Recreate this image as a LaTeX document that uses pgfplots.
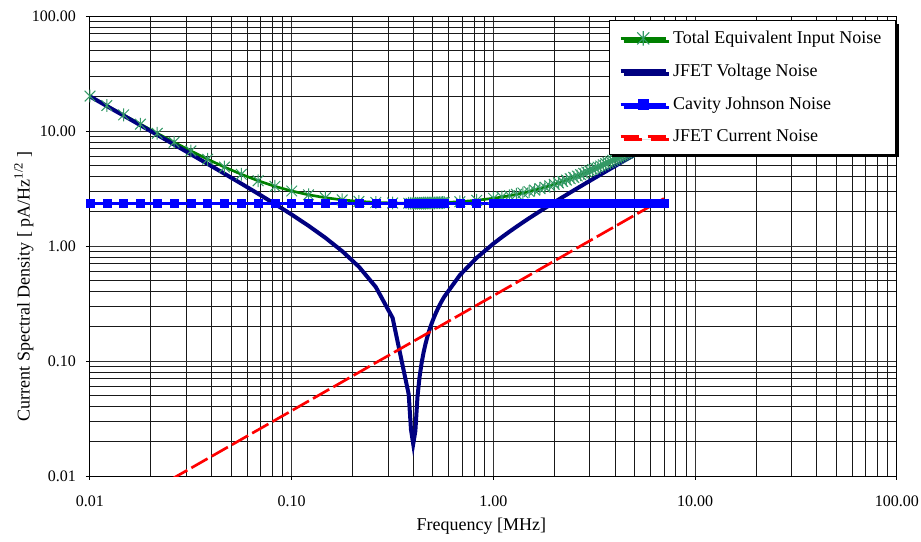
\documentclass[border=0pt]{standalone}
\usepackage{fontspec}
\setmainfont{Liberation Serif}
\usepackage{pgfplots}
\pgfplotsset{compat=1.18}
\usepackage{pgfplotstable}
\usetikzlibrary{shadows}

\definecolor{totline}{RGB}{0,128,0}
\definecolor{totmark}{RGB}{51,153,102}
\definecolor{navyv}{RGB}{0,0,128}
\definecolor{cavblue}{RGB}{0,0,255}
\definecolor{curred}{RGB}{255,0,0}

% Excel-like star: an x with a vertical bar
\pgfdeclareplotmark{xstar}{%
  \pgfpathmoveto{\pgfqpoint{-\pgfplotmarksize}{-\pgfplotmarksize}}%
  \pgfpathlineto{\pgfqpoint{\pgfplotmarksize}{\pgfplotmarksize}}%
  \pgfpathmoveto{\pgfqpoint{-\pgfplotmarksize}{\pgfplotmarksize}}%
  \pgfpathlineto{\pgfqpoint{\pgfplotmarksize}{-\pgfplotmarksize}}%
  \pgfpathmoveto{\pgfqpoint{0pt}{-1.2\pgfplotmarksize}}%
  \pgfpathlineto{\pgfqpoint{0pt}{1.2\pgfplotmarksize}}%
  \pgfusepathqstroke}

% f [MHz], total, JFET voltage, cavity Johnson
\pgfplotstableread{
f        T      V       J
0.01     20.13  19.99   2.35
0.012115 16.66  16.49   2.35
0.014678 13.81  13.61   2.35
0.017783 11.47  11.23   2.35
0.021544 9.549  9.256   2.35
0.026102 7.984  7.630   2.35
0.031623 6.710  6.285   2.35
0.038312 5.681  5.172   2.35
0.046416 4.857  4.251   2.35
0.056234 4.205  3.486   2.35
0.068129 3.694  2.850   2.35
0.082540 3.302  2.320   2.35
0.1      3.007  1.875   2.35
0.12115  2.788  1.499   2.35
0.14678  2.630  1.179   2.35
0.17783  2.518  0.902   2.35
0.21544  2.442  0.659   2.35
0.26102  2.393  0.440   2.35
0.31623  2.365  0.237   2.35
0.38     2.355  0.0513  2.35
0.39     2.355  0.0253  2.35
0.40     2.355  0.019   2.35
0.41     2.355  0.0247  2.35
0.42     2.356  0.0488  2.35
0.43     2.357  0.0724  2.35
0.44     2.358  0.0955  2.35
0.45     2.359  0.1181  2.35
0.46     2.360  0.1402  2.35
0.47     2.362  0.1620  2.35
0.48     2.364  0.1833  2.35
0.49     2.366  0.2043  2.35
0.50     2.368  0.2250  2.35
0.51     2.370  0.2453  2.35
0.52     2.373  0.2654  2.35
0.53     2.375  0.2851  2.35
0.54     2.378  0.3046  2.35
0.55     2.381  0.3239  2.35
0.56     2.384  0.3429  2.35
0.57     2.387  0.3616  2.35
0.68129  2.428  0.5581  2.35
0.82540  2.498  0.7894  2.35
1.0      2.600  1.050   2.35
1.1      2.667  1.193   2.35
1.2      2.738  1.333   2.35
1.3      2.814  1.471   2.35
1.4      2.894  1.607   2.35
1.5      2.977  1.742   2.35
1.6      3.064  1.875   2.35
1.7      3.154  2.007   2.35
1.8      3.247  2.139   2.35
1.9      3.342  2.270   2.35
2.0      3.439  2.400   2.35
2.1      3.539  2.530   2.35
2.2      3.641  2.659   2.35
2.3      3.744  2.788   2.35
2.4      3.850  2.917   2.35
2.5      3.956  3.045   2.35
2.6      4.064  3.173   2.35
2.7      4.173  3.301   2.35
2.8      4.284  3.429   2.35
2.9      4.395  3.556   2.35
3.0      4.508  3.683   2.35
3.1      4.621  3.810   2.35
3.2      4.736  3.938   2.35
3.3      4.851  4.064   2.35
3.4      4.967  4.191   2.35
3.5      5.084  4.318   2.35
3.6      5.201  4.444   2.35
3.7      5.319  4.571   2.35
3.8      5.437  4.697   2.35
3.9      5.557  4.824   2.35
4.0      5.676  4.950   2.35
4.1      5.796  5.076   2.35
4.2      5.916  5.202   2.35
4.3      6.037  5.328   2.35
4.4      6.159  5.455   2.35
4.5      6.280  5.581   2.35
4.6      6.402  5.707   2.35
4.7      6.524  5.832   2.35
4.8      6.646  5.958   2.35
4.9      6.769  6.084   2.35
5.0      6.893  6.210   2.35
5.1      7.016  6.336   2.35
5.2      7.140  6.462   2.35
5.3      7.263  6.587   2.35
5.4      7.388  6.713   2.35
5.5      7.512  6.839   2.35
5.6      7.636  6.964   2.35
5.7      7.761  7.090   2.35
5.8      7.887  7.216   2.35
5.9      8.011  7.341   2.35
6.0      8.137  7.467   2.35
6.1      8.262  7.592   2.35
6.2      8.388  7.718   2.35
6.3      8.513  7.843   2.35
6.4      8.639  7.969   2.35
6.5      8.765  8.094   2.35
6.6      8.891  8.220   2.35
6.7      9.017  8.345   2.35
6.8      9.144  8.471   2.35
6.9      9.270  8.596   2.35
7.0      9.396  8.721   2.35
}\noisedata

\begin{document}
\begin{tikzpicture}
\path[use as bounding box] (-67.5pt,-49.5pt) rectangle (623.25pt,357pt);
\begin{axis}[
    at={(0pt,0pt)}, anchor=south west,
    scale only axis,
    width=605.25pt, height=345pt,
    xmode=log, ymode=log,
    xmin=0.01, xmax=100, ymin=0.01, ymax=100,
    xtick={0.01,0.1,1,10,100},
    xticklabels={0.01,0.10,1.00,10.00,100.00},
    ytick={0.01,0.1,1,10,100},
    yticklabels={0.01,0.10,1.00,10.00,100.00},
    minor xtick={0.02,0.03,0.04,0.05,0.06,0.07,0.08,0.09,0.2,0.3,0.4,0.5,0.6,0.7,0.8,0.9,2,3,4,5,6,7,8,9,20,30,40,50,60,70,80,90},
    minor ytick={0.02,0.03,0.04,0.05,0.06,0.07,0.08,0.09,0.2,0.3,0.4,0.5,0.6,0.7,0.8,0.9,2,3,4,5,6,7,8,9,20,30,40,50,60,70,80,90},
    grid=both,
    major grid style={black!80, line width=0.75pt},
    minor grid style={black!90, line width=0.6pt},
    axis line style={black, line width=0.75pt},
    tick align=outside,
    xtick pos=bottom, ytick pos=left,
    major tick length=3pt, minor tick length=0pt,
    tick style={black, line width=0.75pt},
    tick label style={font=\fontsize{12}{14}\selectfont},
    xticklabel style={yshift=-8pt},
    yticklabel style={xshift=-4pt},
    xlabel={Frequency [MHz]},
    ylabel={Current Spectral Density [ pA/Hz\textsuperscript{1/2} ]},
    label style={font=\fontsize{13.5}{16}\selectfont},
    xlabel style={at={(axis description cs:0.485,0)}, anchor=center, yshift=-37.5pt},
    ylabel style={at={(axis description cs:-0.082,0.715)}, anchor=east, rotate=0},
    legend style={at={(axis description cs:0.6430,0.9913)}, anchor=north west,
        draw=black, line width=0.75pt, fill=white,
        font=\fontsize{13.5}{16}\selectfont,
        row sep=9.75pt, inner xsep=7pt, inner ysep=6pt,
        cells={anchor=west},
        nodes={inner xsep=4pt},
        drop shadow={shadow xshift=2.25pt, shadow yshift=-2.25pt, fill=black, opacity=1}},
    legend image code/.code={\draw[mark repeat=2,mark phase=2,#1] plot coordinates {(0pt,0pt) (16.875pt,0pt) (33.75pt,0pt)};},
]
% lines first
\addplot[totline, line width=2pt, forget plot] table[x=f, y=T] {\noisedata};
\addplot[navyv, line width=3pt, forget plot] table[x=f, y=V] {\noisedata};
\addplot[cavblue, line width=2.25pt, forget plot] table[x=f, y=J] {\noisedata};
\addplot[curred, line width=2pt, dash pattern=on 14pt off 3.5pt, forget plot] coordinates {(0.01,0.0037) (7.0,2.59)};
% then markers
\addplot[only marks, mark=xstar, mark size=4pt, mark options={totmark, line width=0.75pt}, forget plot] table[x=f, y=T] {\noisedata};
\addplot[only marks, mark=square*, mark size=3pt, mark options={cavblue}, forget plot] table[x=f, y=J] {\noisedata};

\addlegendimage{totline, line width=2pt, mark=xstar, mark size=4.5pt, mark options={totmark, line width=0.8pt, solid}}
\addlegendentry{Total Equivalent Input Noise}
\addlegendimage{navyv, line width=3pt}
\addlegendentry{JFET Voltage Noise}
\addlegendimage{cavblue, line width=2.25pt, mark=square*, mark size=3pt, mark options={cavblue}}
\addlegendentry{Cavity Johnson Noise}
\addlegendimage{curred, line width=2pt, dash pattern=on 13.5pt off 6.75pt}
\addlegendentry{JFET Current Noise}
\end{axis}
\end{tikzpicture}
\end{document}
